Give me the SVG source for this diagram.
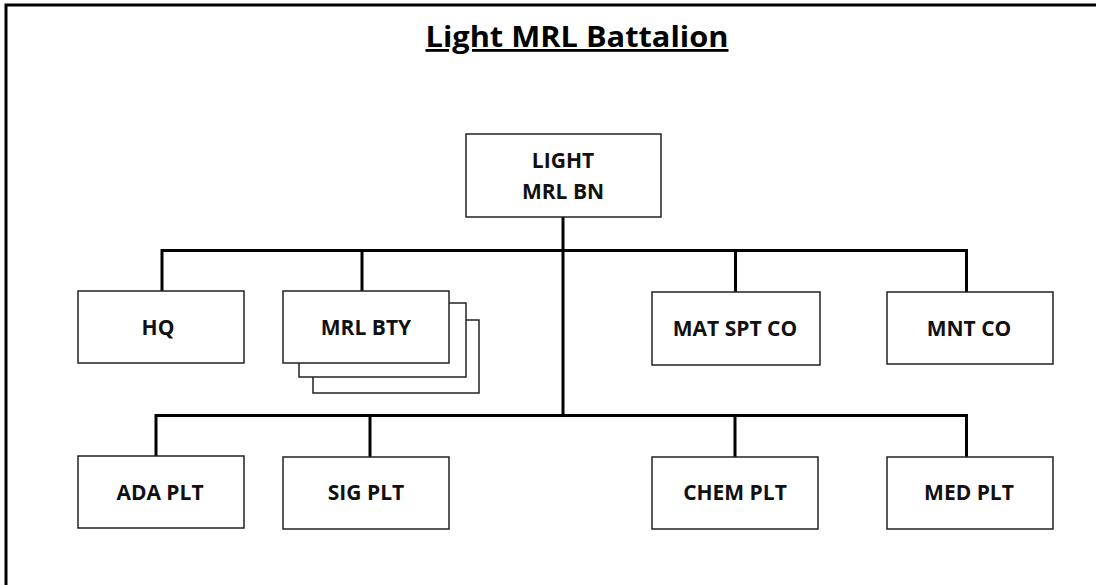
<svg xmlns="http://www.w3.org/2000/svg" width="1096" height="585" viewBox="0 0 1096 585">
<style>
.box{fill:#fff;stroke:#222;stroke-width:1.5}
.lbl{font-family:"Open Sans","Liberation Sans",sans-serif;font-weight:700;font-size:21px;fill:#111;text-anchor:middle}
.conn{fill:none;stroke:#000;stroke-width:3}
</style>
<rect x="0" y="0" width="1096" height="585" fill="#fff"/>
<path d="M6,590 V5 H1100" fill="none" stroke="#000" stroke-width="3"/>
<text x="577" y="47" font-family="'Open Sans','Liberation Sans',sans-serif" font-weight="700" font-size="28" text-anchor="middle" text-decoration="underline" textLength="303" lengthAdjust="spacingAndGlyphs" fill="#000">Light MRL Battalion</text>
<g id="connectors">
<path class="conn" d="M563,217 V415.5"/>
<path class="conn" d="M162,291 V250.5 H966.5 V292"/>
<path class="conn" d="M362,250.5 V291"/>
<path class="conn" d="M735.5,250.5 V292"/>
<path class="conn" d="M156,456 V415.5 H966.5 V457"/>
<path class="conn" d="M370,415.5 V457"/>
<path class="conn" d="M735,415.5 V457"/>
</g>
<g id="n-bn"><rect class="box" x="466" y="134" width="195" height="83"/><text class="lbl" x="563" y="168">LIGHT</text><text class="lbl" x="563" y="199">MRL BN</text></g>
<g id="n-hq"><rect class="box" x="78" y="291" width="166" height="72"/><text class="lbl" x="158" y="335">HQ</text></g>
<g id="n-bty"><rect class="box" x="313" y="320" width="166" height="73"/><rect class="box" x="299" y="303" width="167" height="74"/><rect class="box" x="283" y="291" width="166" height="72"/><text class="lbl" x="366" y="335">MRL BTY</text></g>
<g id="n-mat"><rect class="box" x="652" y="292" width="168" height="73"/><text class="lbl" x="735" y="336">MAT SPT CO</text></g>
<g id="n-mnt"><rect class="box" x="887" y="292" width="166" height="72"/><text class="lbl" x="969" y="336">MNT CO</text></g>
<g id="n-ada"><rect class="box" x="78" y="456" width="166" height="72"/><text class="lbl" x="160" y="500">ADA PLT</text></g>
<g id="n-sig"><rect class="box" x="283" y="457" width="166" height="72"/><text class="lbl" x="366" y="500">SIG PLT</text></g>
<g id="n-chem"><rect class="box" x="652" y="457" width="166" height="72"/><text class="lbl" x="735" y="500">CHEM PLT</text></g>
<g id="n-med"><rect class="box" x="887" y="457" width="166" height="72"/><text class="lbl" x="969" y="500">MED PLT</text></g>
</svg>
